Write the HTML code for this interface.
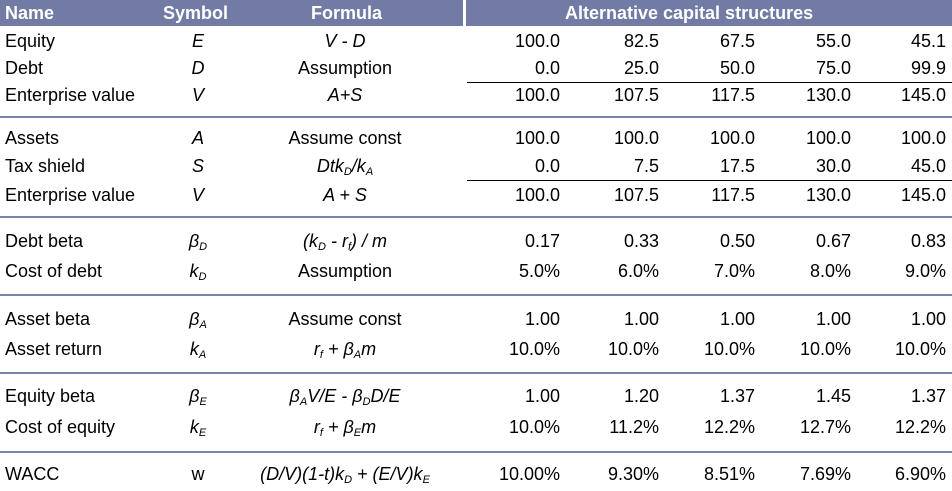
<!DOCTYPE html>
<html><head><meta charset="utf-8"><style>
body{margin:0;background:#fff;width:952px;height:491px;overflow:hidden;position:relative;font-family:"Liberation Sans",Arial,sans-serif;font-size:18px;color:#000}
.a{position:absolute;white-space:nowrap;line-height:20px}
.hd{position:absolute;top:0;height:26px;background:#717ba3}
.ht{position:absolute;top:3px;color:#fff;font-weight:bold;font-size:18px;line-height:20px;white-space:nowrap}
.sep{position:absolute;left:0;width:952px;height:2px;background:#7a84a8}
.ul{position:absolute;left:467px;width:485px;height:1px;background:#000}
i sub{font-size:11px;vertical-align:-3px}
</style></head><body>
<div class="hd" style="left:0;width:463px"></div>
<div class="hd" style="left:466px;width:486px"></div>
<div class="ht" style="left:5px">Name</div>
<div class="ht" style="left:163px">Symbol</div>
<div class="ht" style="left:311px">Formula</div>
<div class="ht" style="left:565px">Alternative capital structures</div>
<div id="t"></div>
<script>
const rowNames=["Equity","Debt","Enterprise value","Assets","Tax shield","Enterprise value","Debt beta","Cost of debt","Asset beta","Asset return","Equity beta","Cost of equity","WACC"];
const rowSymbols=["<i>E</i>","<i>D</i>","<i>V</i>","<i>A</i>","<i>S</i>","<i>V</i>","<i>β<sub>D</sub></i>","<i>k<sub>D</sub></i>","<i>β<sub>A</sub></i>","<i>k<sub>A</sub></i>","<i>β<sub>E</sub></i>","<i>k<sub>E</sub></i>","w"];
const rowFormulas=["<i>V - D</i>","Assumption","<i>A+S</i>","Assume const","<i>Dtk<sub>D</sub>/k<sub>A</sub></i>","<i>A + S</i>","<i>(k<sub>D</sub> - r<sub>f</sub>) / m</i>","Assumption","Assume const","<i>r<sub>f</sub> + β<sub>A</sub>m</i>","<i>β<sub>A</sub>V/E - β<sub>D</sub>D/E</i>","<i>r<sub>f</sub> + β<sub>E</sub>m</i>","<i>(D/V)(1-t)k<sub>D</sub> + (E/V)k<sub>E</sub></i>"];
const rowValues=[
["100.0","82.5","67.5","55.0","45.1"],
["0.0","25.0","50.0","75.0","99.9"],
["100.0","107.5","117.5","130.0","145.0"],
["100.0","100.0","100.0","100.0","100.0"],
["0.0","7.5","17.5","30.0","45.0"],
["100.0","107.5","117.5","130.0","145.0"],
["0.17","0.33","0.50","0.67","0.83"],
["5.0%","6.0%","7.0%","8.0%","9.0%"],
["1.00","1.00","1.00","1.00","1.00"],
["10.0%","10.0%","10.0%","10.0%","10.0%"],
["1.00","1.20","1.37","1.45","1.37"],
["10.0%","11.2%","12.2%","12.7%","12.2%"],
["10.00%","9.30%","8.51%","7.69%","6.90%"]];
const rowY=[42,69,96,139,167,196,242,272,320,350,397,428,475];
const colRight=[560,659,755,851,946];
const sepY=[116,216,294,372,451];
const ulY=[82,180];
const t=document.getElementById('t');
function add(cls,html,style,name){const d=document.createElement('div');d.className=cls;d.innerHTML=html;d.style.cssText=style;


t.appendChild(d);return d;}
rowNames.forEach((n,r)=>{const y=rowY[r]-11;
add('a',n,`left:5px;top:${y}px`,'row-name');
add('a',rowSymbols[r],`left:198px;top:${y}px;transform:translateX(-50%)`,'row-symbol');
add('a',rowFormulas[r],`left:345px;top:${y}px;transform:translateX(-50%)`,'row-formula');
rowValues[r].forEach((v,c)=>add('a',v,`right:${952-colRight[c]}px;top:${y}px`,'value-cell'));});
sepY.forEach(y=>add('sep','',`top:${y}px`,'section-separator'));
ulY.forEach(y=>add('ul','',`top:${y}px`,'sum-underline'));
</script>
</body></html>
